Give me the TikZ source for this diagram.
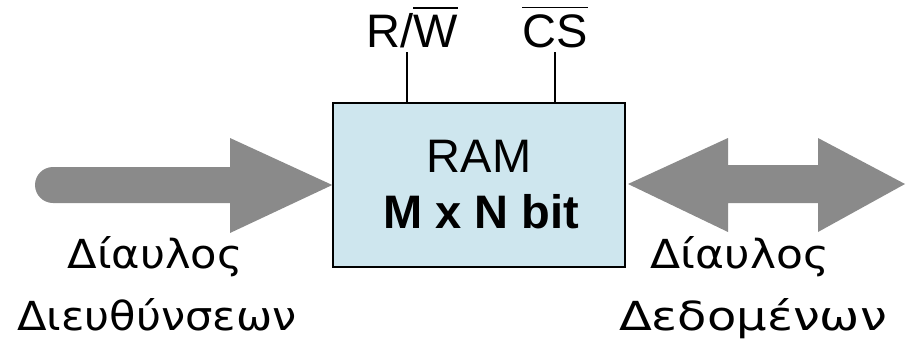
\documentclass[tikz,border=0pt]{standalone}
\usepackage{fontspec}
\setmainfont{Liberation Sans}
\newfontfamily\greekfont{DejaVu Sans}
\definecolor{busgray}{RGB}{138,138,138}
\definecolor{ramblue}{RGB}{206,230,238}
\newcommand\ovbar[1]{\leavevmode\vbox{\hrule height 1.6pt\kern 6pt\hbox{#1}}}
\begin{document}
\begin{tikzpicture}[x=1pt,y=1pt,
  bus/.style={fill=busgray,draw=none},
  rambox/.style={draw=black,line width=1.5pt,fill=ramblue,minimum width=292pt,minimum height=164pt,inner sep=0pt},
  sig/.style={draw=black,line width=1.3pt},
  lbl/.style={font=\fontsize{47}{50}\selectfont,inner sep=0pt},
  grk/.style={font=\greekfont\fontsize{40}{44}\selectfont,inner sep=0pt,anchor=base}]
\useasboundingbox (0,0) rectangle (907,341);
% RAM box
\node[rambox] (ram) at (479,156) {};
\node[lbl,anchor=base] (ramt) at (479,169) {RAM};
\node[lbl,anchor=base,font=\bfseries\fontsize{47}{50}\selectfont] (mn) at (481,113) {M x N bit};
% control signals
\node[lbl,anchor=base] (rw) at (412,294) {R/\ovbar{W}};
\node[lbl,anchor=base] (cs) at (555,294) {\ovbar{CS}};
\coordinate (rwend) at (407,289);
\coordinate (csend) at (555,289);
\draw[sig] (rwend |- ram.north) -- (rwend);
\draw[sig] (csend |- ram.north) -- (csend);
% address bus arrow
\fill[bus] (53,174) -- (230,174) -- (230,203) -- (ram.west) -- (230,108) -- (230,138) -- (53,138)
  arc[start angle=270,end angle=90,radius=18] -- cycle;
% data bus double arrow
\coordinate (dtip) at (905,157);
\fill[bus] (ram.east -| 628,0) ++(0,1) -- (728,203) -- (728,176) -- (818,176) -- (818,203) -- (dtip)
  -- (818,109) -- (818,138) -- (728,138) -- (728,109) -- cycle;
% labels
\node[grk] (a1) at (155,73) {\scalebox{1.08}[1]{Δίαυλος}};
\node[grk] (a2) at (157,11) {\scalebox{1.08}[1]{Διευθύνσεων}};
\node[grk] (d1) at (740,73) {\scalebox{1.1}[1]{Δίαυλος}};
\node[grk] (d2) at (753,11) {\scalebox{1.2}[1]{Δεδομένων}};
\end{tikzpicture}
\end{document}
